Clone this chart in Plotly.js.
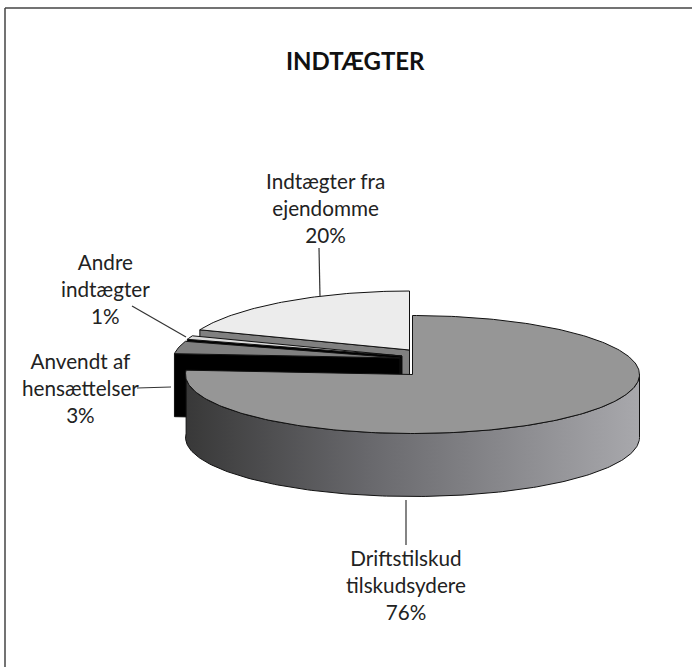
<!DOCTYPE html>
<html>
<head>
<meta charset="utf-8">
<script src="https://cdn.plot.ly/plotly-3.0.1.min.js"></script>
<style>html,body{margin:0;padding:0;background:#fff}#c{width:692px;height:667px}</style>
</head>
<body>
<div id="c"></div>
<script>
var chartTitle = "INDTÆGTER";
var categories = ["Driftstilskud<br>tilskudsydere", "Anvendt af<br>hensættelser", "Andre<br>indtægter", "Indtægter fra<br>ejendomme"];
var values = [76.4, 3.4, 1.0, 19.5];
var topColors = ["#969696", "#808080", "#dcdcdc", "#ececec"];
var wallColors = ["#666666", "#000000", "#000000", "#808080"];

var RX = 227, RY = 59, DEPTH = 63;
// slice vertex in the pixel-scaled axes, and how much the far side narrows
var vertices = [[412.5, 374.5], [400, 358], [402, 356], [409.5, 350]];
var taper = [0, 0.05, 0.05, 0.05];
var labelPos = [[406, 585], [80, 388], [105, 289], [325, 208]];
var leaders = [[[406, 500], [406, 545]], [[137, 388], [171, 387]], [[132, 306], [186, 337]], [[319, 248], [320, 297]]];

function pt(deg, i, dz) {
  var a = deg * Math.PI / 180, s = Math.sin(a), c = Math.cos(a);
  var scale = 1 - taper[i] * Math.max(0, c);
  return [vertices[i][0] + RX * s * scale, vertices[i][1] - RY * c + (dz || 0)];
}
function arc(a0, a1, i, dz) {
  var out = [], n = Math.max(2, Math.ceil(Math.abs(a1 - a0)));
  for (var k = 0; k <= n; k++) out.push(pt(a0 + (a1 - a0) * k / n, i, dz));
  return out;
}
function poly(points, fill, name, extra) {
  var xs = points.map(function (p) { return p[0]; }), ys = points.map(function (p) { return p[1]; });
  xs.push(xs[0]); ys.push(ys[0]);
  var t = { type: "scatter", mode: "lines", x: xs, y: ys, fill: "toself", fillcolor: fill, name: name,
    line: { color: "#111111", width: 1 }, hoverinfo: "skip", showlegend: false };
  if (extra) for (var key in extra) t[key] = extra[key];
  return t;
}

var total = values.reduce(function (a, b) { return a + b; }, 0);
var ranges = [], acc = 0;
values.forEach(function (v) { ranges.push([acc / total * 360, (acc + v) / total * 360]); acc += v; });

var traces = [];
[3, 2, 1, 0].forEach(function (i) {
  var a0 = ranges[i][0], a1 = ranges[i][1], v = vertices[i];
  var name = categories[i].replace("<br>", " ");
  if (i === 0) {
    var wallTop = arc(90, a1, i, 0), wallBot = arc(a1, 90, i, DEPTH);
    traces.push(poly(wallTop.concat(wallBot), wallColors[i], name + " side", {
      fillgradient: { type: "horizontal", colorscale: [[0, "#383838"], [0.4, "#68686c"], [0.7, "#88888c"], [1, "#a8a8ac"]] }
    }));
  } else {
    var c = pt(a0, i, 0), cb = pt(a0, i, DEPTH);
    traces.push(poly([[v[0], v[1]], c, cb, [v[0], v[1] + DEPTH]], wallColors[i], name + " side"));
  }
  traces.push(poly([[v[0], v[1]]].concat(arc(a0, a1, i, 0)), topColors[i], name));
});

leaders.forEach(function (l) {
  traces.push({ type: "scatter", mode: "lines", x: [l[0][0], l[1][0]], y: [l[0][1], l[1][1]],
    line: { color: "#333333", width: 1.2 }, hoverinfo: "skip", showlegend: false });
});

var FONT = "Lato, 'Open Sans', sans-serif";
var annotations = categories.map(function (c, i) {
  return { x: labelPos[i][0], y: labelPos[i][1], xref: "x", yref: "y", xanchor: "center", yanchor: "middle",
    showarrow: false, align: "center", text: c + "<br>" + Math.round(values[i]) + "%",
    font: { family: FONT, size: 20.7, color: "#222222" } };
});
annotations.push({ x: 355, y: 60, xref: "x", yref: "y", xanchor: "center", yanchor: "middle", showarrow: false,
  text: "<b>" + chartTitle + "</b>", font: { family: FONT, size: 24, color: "#111111" } });

var layout = {
  width: 692, height: 667, margin: { l: 0, r: 0, t: 0, b: 0 },
  paper_bgcolor: "#ffffff", plot_bgcolor: "#ffffff", showlegend: false,
  xaxis: { range: [0, 692], visible: false, fixedrange: true },
  yaxis: { range: [667, 0], visible: false, fixedrange: true },
  annotations: annotations,
  shapes: [
    { type: "line", xref: "paper", yref: "paper", x0: 5 / 692, x1: 1, y0: 1 - 8 / 667, y1: 1 - 8 / 667, line: { color: "#444444", width: 1.5 } },
    { type: "line", xref: "paper", yref: "paper", x0: 5 / 692, x1: 5 / 692, y0: 1 - 8 / 667, y1: 0, line: { color: "#444444", width: 1.5 } }
  ]
};
Plotly.newPlot("c", traces, layout, { displayModeBar: false, staticPlot: true });
</script>
</body>
</html>
